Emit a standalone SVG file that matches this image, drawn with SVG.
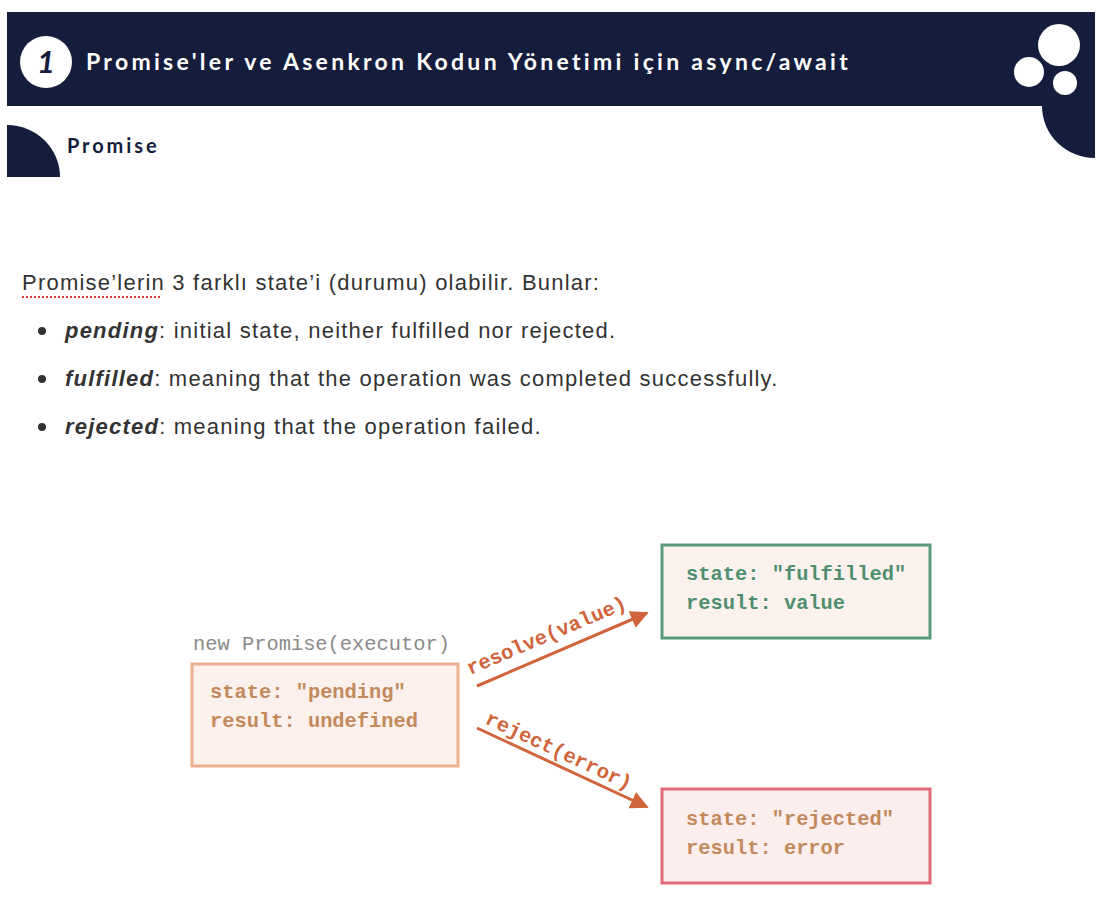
<svg xmlns="http://www.w3.org/2000/svg" width="1103" height="899" viewBox="0 0 1103 899">
<defs>
<style>
.navy{fill:#141d3b}
.title{font-family:Lato,"Noto Sans",sans-serif;font-weight:bold;fill:#ffffff;font-size:23px;letter-spacing:3.3px}
.sub{font-family:Lato,"Noto Sans",sans-serif;font-weight:bold;fill:#141d3b;font-size:20px;letter-spacing:2.9px}
.body{font-family:"Liberation Sans",Arial,sans-serif;font-size:22px;fill:#333333;letter-spacing:1.22px}
.em{font-weight:bold;font-style:italic}
.mono{font-family:"Liberation Mono","DejaVu Sans Mono",monospace;font-size:20.4px}
.box{stroke-width:3}
.conn{stroke:#d0643a;stroke-width:3;fill:none}
</style>
<marker id="ah" viewBox="0 0 10 10" refX="9" refY="5" markerWidth="6" markerHeight="6" markerUnits="strokeWidth" orient="auto">
<path d="M0,0 L10,5 L0,10 Z" fill="#d0643a"/>
</marker>
</defs>
<rect width="1103" height="899" fill="#ffffff"/>
<g id="header">
<rect x="7" y="12" width="1088" height="94" class="navy"/>
<path d="M1042,106 L1095,106 L1095,158 A53,52 0 0 1 1042,106 Z" class="navy"/>
<circle cx="1059" cy="45" r="21" fill="#ffffff"/>
<circle cx="1029" cy="72" r="15" fill="#ffffff"/>
<circle cx="1065" cy="83" r="12" fill="#ffffff"/>
<circle cx="46" cy="62" r="26" fill="#ffffff"/>
<text x="46" y="73" text-anchor="middle" font-family="Lato,'Noto Sans',sans-serif" font-weight="bold" font-style="italic" font-size="31" fill="#141d3b">1</text>
<text x="86" y="70" class="title">Promise'ler ve Asenkron Kodun Yönetimi için async/await</text>
</g>
<g id="subheader">
<path d="M7,125 A53,52 0 0 1 60,177 L7,177 Z" class="navy"/>
<text x="67" y="153" class="sub">Promise</text>
</g>
<g id="intro">
<text x="22" y="290" class="body">Promise’lerin 3 farklı state’i (durumu) olabilir. Bunlar:</text>
<line x1="22" y1="297" x2="162" y2="297" stroke="#e0343a" stroke-width="2" stroke-dasharray="2,2"/>
<circle cx="42" cy="331" r="4" fill="#333333"/>
<text x="65" y="338" class="body"><tspan class="em">pending</tspan>: initial state, neither fulfilled nor rejected.</text>
<circle cx="42" cy="379" r="4" fill="#333333"/>
<text x="65" y="386" class="body"><tspan class="em">fulfilled</tspan>: meaning that the operation was completed successfully.</text>
<circle cx="42" cy="427" r="4" fill="#333333"/>
<text x="65" y="434" class="body"><tspan class="em">rejected</tspan>: meaning that the operation failed.</text>
</g>
<g id="pending">
<text x="193" y="650" class="mono" fill="#8a8a8a">new Promise(executor)</text>
<rect x="192" y="664" width="266" height="102" fill="#fbf0eb" stroke="#eab08f" class="box"/>
<text x="210" y="698" class="mono" fill="#c28a5c" font-weight="bold">state: "pending"</text>
<text x="210" y="727" class="mono" fill="#c28a5c" font-weight="bold">result: undefined</text>
</g>
<g id="fulfilled">
<rect x="662" y="545" width="268" height="93" fill="#fbf2ed" stroke="#5a9a7a" class="box"/>
<text x="686" y="580" class="mono" fill="#4f8f6f" font-weight="bold">state: "fulfilled"</text>
<text x="686" y="609" class="mono" fill="#4f8f6f" font-weight="bold">result: value</text>
</g>
<g id="rejected">
<rect x="662" y="789" width="268" height="94" fill="#fdeeee" stroke="#e06b77" class="box"/>
<text x="686" y="825" class="mono" fill="#c28a5c" font-weight="bold">state: "rejected"</text>
<text x="686" y="854" class="mono" fill="#c28a5c" font-weight="bold">result: error</text>
</g>
<g id="connectors">
<line x1="477" y1="686" x2="647" y2="613" class="conn" marker-end="url(#ah)"/>
<text transform="translate(470,675) rotate(-23)" class="mono" fill="#d0643a" font-weight="bold">resolve(value)</text>
<line x1="477" y1="728" x2="647" y2="807" class="conn" marker-end="url(#ah)"/>
<text transform="translate(484,723) rotate(25)" class="mono" fill="#d0643a" font-weight="bold">reject(error)</text>
</g>
</svg>
